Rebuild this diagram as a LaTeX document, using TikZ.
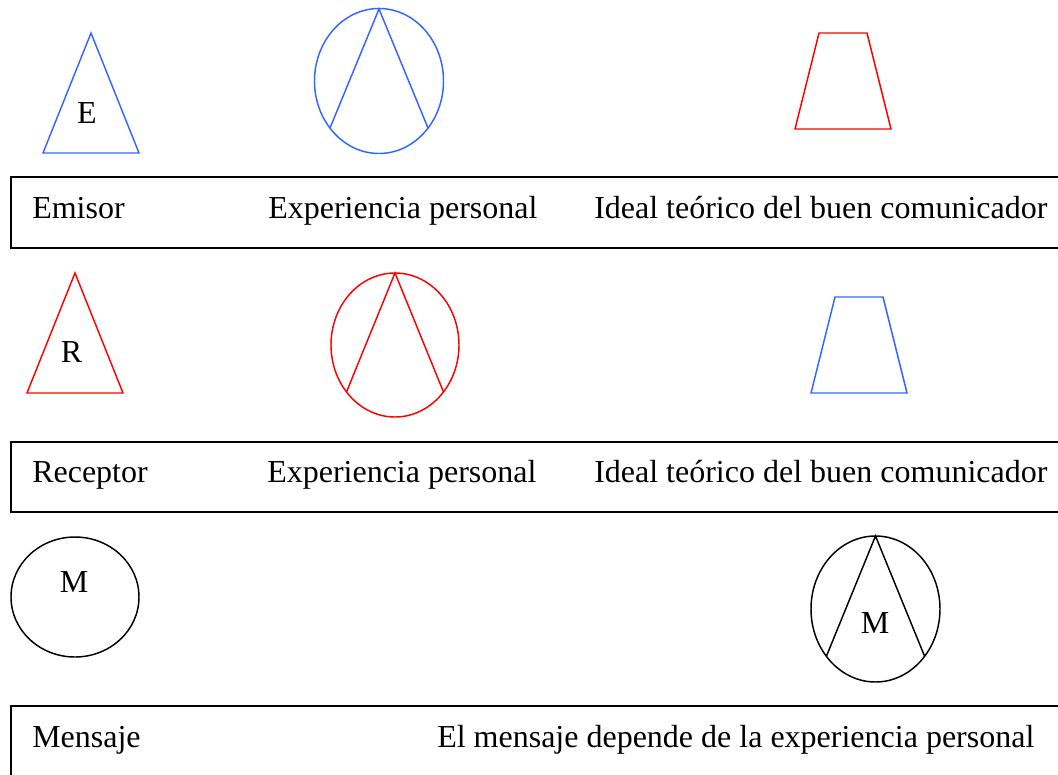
\documentclass[tikz,border=0pt]{standalone}
\usepackage{fontspec}
\setmainfont{Liberation Serif}
\definecolor{shblue}{HTML}{3366FF}
\definecolor{shred}{HTML}{FF0000}
\begin{document}
\begin{tikzpicture}[x=0.75pt,y=-0.75pt,
  txt/.style={font=\fontsize{24}{28}\selectfont, inner sep=0pt, anchor=base west},
  letter/.style={font=\fontsize{24}{28}\selectfont, inner sep=0pt},
  rowbox/.style={draw=black, line width=1.5pt},
  shp/.style={line width=1.1pt, line join=miter}]
\clip (0,0) rectangle (1058,775);
\fill[white] (0,0) rectangle (1058,775);

% ---- Row 1: Emisor ----
\draw[shp, shblue] (91,33) -- (139,153) -- (43,153) -- cycle;
\node[letter] (e) at (87,113) {E};
\draw[shp, shblue] (379,81) ellipse [x radius=64.5, y radius=72.5];
\draw[shp, shblue] (330,128) -- (379,9) -- (428,128);
\draw[shp, shred] (819,33) -- (867,33) -- (891,129) -- (795,129) -- cycle;

\draw[rowbox] (11,177) rectangle (1080,248);
\node[txt] (t1a) at (32,218) {Emisor};
\node[txt] (t1b) at (268,218) {Experiencia personal};
\node[txt] (t1c) at (594,218) {Ideal teórico del buen comunicador};

% ---- Row 2: Receptor ----
\draw[shp, shred] (75,273) -- (123,393) -- (27,393) -- cycle;
\node[letter] (r) at (71.5,352) {R};
\draw[shp, shred] (395,345) ellipse [x radius=64, y radius=72];
\draw[shp, shred] (346.5,392) -- (395,273) -- (443.5,392);
\draw[shp, shblue] (835,297) -- (883,297) -- (907,393) -- (811,393) -- cycle;

\draw[rowbox] (11,442) rectangle (1080,512);
\node[txt] (t2a) at (32,482) {Receptor};
\node[txt] (t2b) at (267,482) {Experiencia personal};
\node[txt] (t2c) at (594,482) {Ideal teórico del buen comunicador};

% ---- Row 3: Mensaje ----
\draw[shp, black] (75,597) ellipse [x radius=64, y radius=60];
\node[letter] (m1) at (74,582) {M};
\draw[shp, black] (875.5,609) ellipse [x radius=64.5, y radius=73];
\draw[shp, black] (826.5,656) -- (875.5,536) -- (924.5,656);
\node[letter] (m2) at (875,623) {M};

\draw[rowbox] (11,706) rectangle (1080,800);
\node[txt] (t3a) at (32,747) {Mensaje};
\node[txt] (t3b) at (437,747) {El mensaje depende de la experiencia personal};
\end{tikzpicture}
\end{document}
